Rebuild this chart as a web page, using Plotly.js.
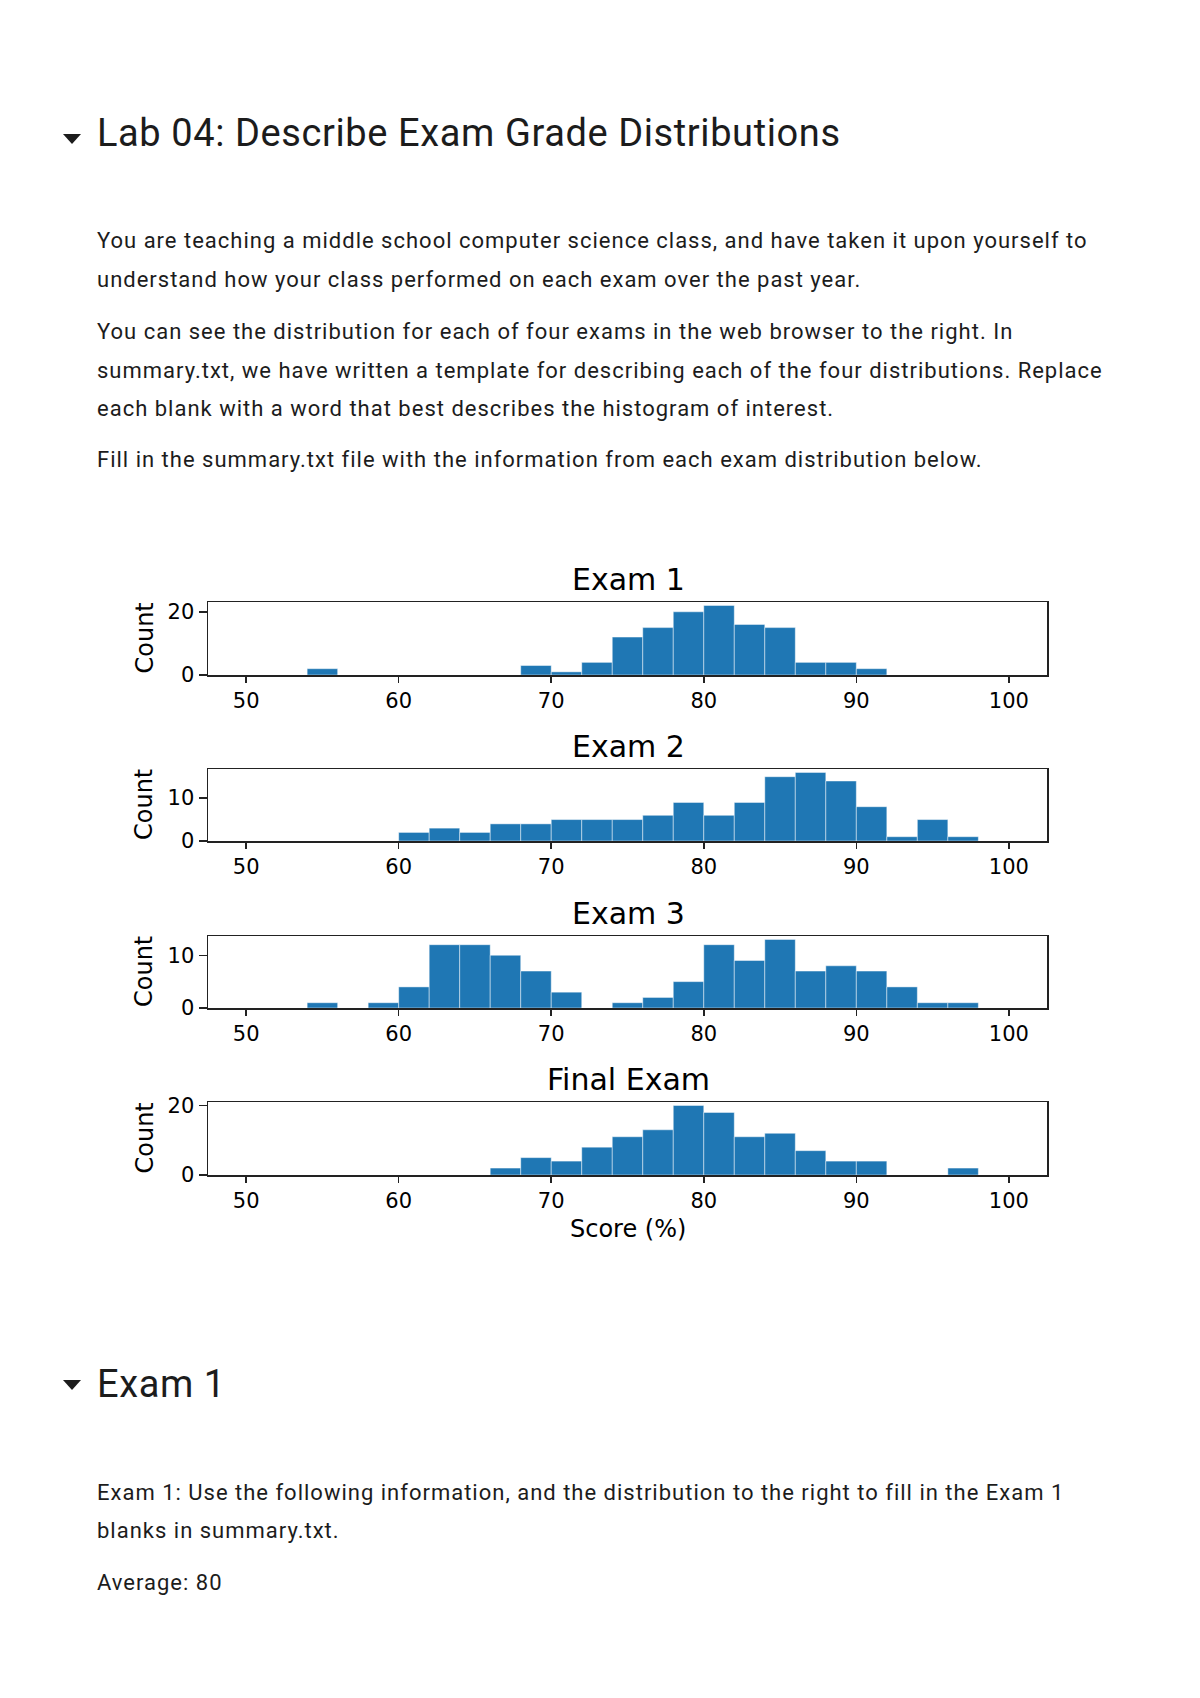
<!DOCTYPE html>
<html>
<head>
<meta charset="utf-8">
<script src="https://cdn.plot.ly/plotly-3.0.1.min.js"></script>
<style>
  html, body { margin:0; padding:0; background:#fff; }
  body { width:1200px; height:1698px; position:relative; overflow:hidden; font-family: Roboto, "Open Sans", sans-serif; color:#1c1c1c; }
  #chart { position:absolute; left:0; top:0; width:1200px; height:1698px; }
  .t { position:absolute; left:97px; white-space:nowrap; }
  .h { font-size:38px; line-height:44px; letter-spacing:0.6px; }
  .p { font-size:22px; line-height:38px; letter-spacing:1px; }
  .tri { position:absolute; width:0; height:0; border-left:9px solid transparent; border-right:9px solid transparent; border-top:10px solid #1c1c1c; left:63px; }
</style>
</head>
<body>
<div id="chart"></div>
<div class="tri" style="top:134px"></div>
<div class="t h" style="top:111px">Lab 04: Describe Exam Grade Distributions</div>
<div class="t p" style="top:222px">You are teaching a middle school computer science class, and have taken it upon yourself to</div>
<div class="t p" style="top:261px">understand how your class performed on each exam over the past year.</div>
<div class="t p" style="top:313px">You can see the distribution for each of four exams in the web browser to the right. In</div>
<div class="t p" style="top:352px">summary.txt, we have written a template for describing each of the four distributions. Replace</div>
<div class="t p" style="top:390px">each blank with a word that best describes the histogram of interest.</div>
<div class="t p" style="top:441px">Fill in the summary.txt file with the information from each exam distribution below.</div>
<div class="tri" style="top:1380px"></div>
<div class="t h" style="top:1362px">Exam 1</div>
<div class="t p" style="top:1474px">Exam 1: Use the following information, and the distribution to the right to fill in the Exam 1</div>
<div class="t p" style="top:1512px">blanks in summary.txt.</div>
<div class="t p" style="top:1564px">Average: 80</div>
<script>
// Histogram bin left edges (bin width 2)
const binEdges = [50,52,54,56,58,60,62,64,66,68,70,72,74,76,78,80,82,84,86,88,90,92,94,96,98];
const binWidth = 2;
const exam1 = [0,0,2,0,0,0,0,0,0,3,1,4,12,15,20,22,16,15,4,4,2,0,0,0,0];
const exam2 = [0,0,0,0,0,2,3,2,4,4,5,5,5,6,9,6,9,15,16,14,8,1,5,1,0];
const exam3 = [0,0,1,0,1,4,12,12,10,7,3,0,1,2,5,12,9,13,7,8,7,4,1,1,0];
const finalExam = [0,0,0,0,0,0,0,0,2,5,4,8,11,13,20,18,11,12,7,4,4,0,0,2,0];
const titles = ["Exam 1","Exam 2","Exam 3","Final Exam"];
const series = [exam1, exam2, exam3, finalExam];
const yTicks = [[0,20],[0,10],[0,10],[0,20]];
const xTicks = [50,60,70,80,90,100];

const H = 1698, W = 1200;
const boxes = [[602,675],[769,841],[936,1008],[1102,1175]]; // top,bottom px
const xDom = [208/W, 1047/W];
const chartFont = "DejaVu Sans, sans-serif";

const data = [];
const layout = {
  width: W, height: H, margin:{l:0,r:0,t:0,b:0},
  paper_bgcolor:'rgba(0,0,0,0)', plot_bgcolor:'#fff',
  showlegend:false, bargap:0,
  font:{family:chartFont, color:'#000'},
  annotations:[]
};
series.forEach((s,i)=>{
  const k = i===0 ? '' : String(i+1);
  data.push({
    type:'bar', x: binEdges, y: s, width: binWidth, offset: 0,
    xaxis:'x'+k, yaxis:'y'+k,
    marker:{color:'#1f77b4', line:{color:'rgba(255,255,255,0.45)', width:1}},
    hoverinfo:'x+y'
  });
  const [top,bot] = boxes[i];
  const ymax = Math.max(...s)*1.05;
  const axLine = {showline:true, mirror:true, linecolor:'#222', linewidth:1.5,
    ticks:'outside', tickwidth:1.5, tickcolor:'#222', showgrid:false, zeroline:false,
    tickfont:{family:chartFont, size:21, color:'#000'}};
  layout['xaxis'+k] = Object.assign({}, axLine, {domain:xDom, range:[47.5,102.5], tickvals:xTicks, ticklen:6, anchor:'y'+k});
  layout['yaxis'+k] = Object.assign({}, axLine, {domain:[1-bot/H, 1-top/H], range:[0,ymax], tickvals:yTicks[i], ticklen:8, anchor:'x'+k});
  layout.annotations.push({text:titles[i], xref:'paper', yref:'paper', x:628/W, y:1-(top-23)/H,
    xanchor:'center', yanchor:'middle', showarrow:false, font:{family:chartFont, size:30, color:'#000'}});
  layout.annotations.push({text:'Count', xref:'paper', yref:'paper', x:144/W, y:1-((top+bot)/2)/H,
    xanchor:'center', yanchor:'middle', textangle:-90, showarrow:false, font:{family:chartFont, size:24, color:'#000'}});
});
layout.annotations.push({text:'Score (%)', xref:'paper', yref:'paper', x:628/W, y:1-1229/H,
  xanchor:'center', yanchor:'middle', showarrow:false, font:{family:chartFont, size:24, color:'#000'}});

Plotly.newPlot('chart', data, layout, {staticPlot:true, displayModeBar:false});
</script>
</body>
</html>
